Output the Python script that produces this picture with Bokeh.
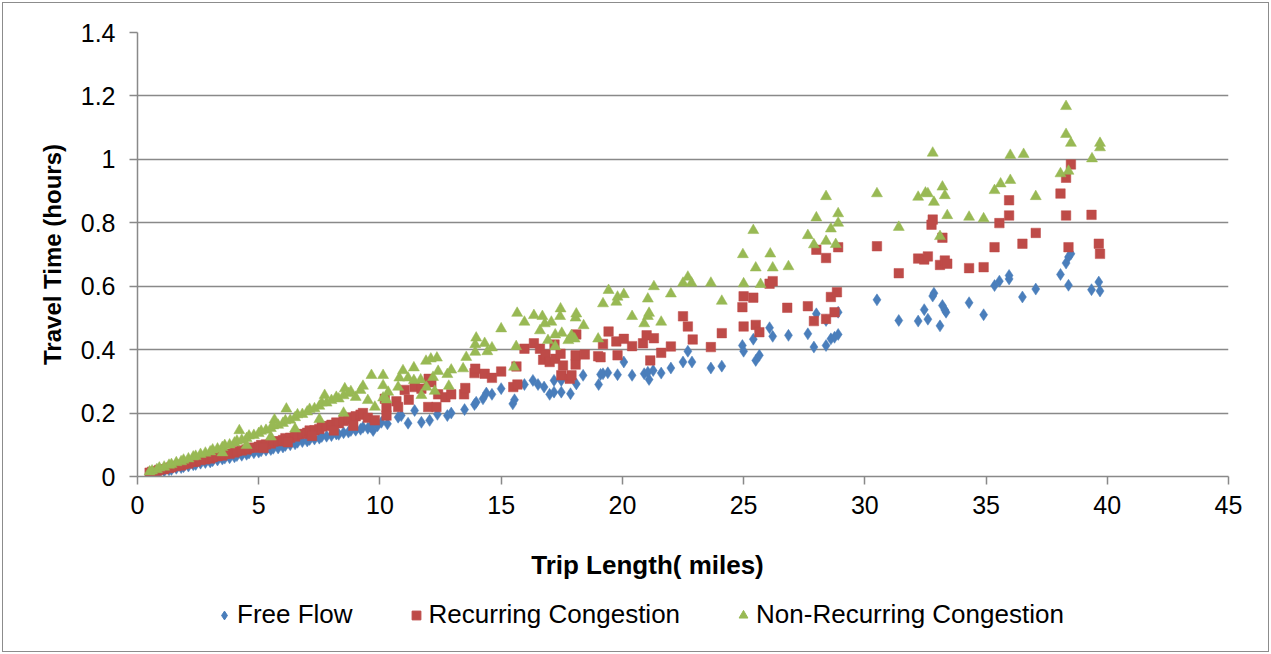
from bokeh.plotting import figure
from bokeh.layouts import column
from bokeh.models import (Range1d, FixedTicker, CustomJSTickFormatter, Legend, LegendItem, Label)
from bokeh.embed import file_html
from bokeh.resources import INLINE

# ---------------- data ----------------
free_x = [0.5, 0.6, 0.8, 0.9, 1.1, 1.3, 1.4, 1.6, 1.8, 1.9, 2.1, 2.3, 2.4, 2.6, 2.8, 3.0, 3.1, 3.3, 3.5, 3.6,
          3.8, 4.0, 4.1, 4.3, 4.5, 4.6, 4.8, 5.0, 5.1, 5.3, 5.5, 5.6, 5.8, 6.0, 6.1, 6.3, 6.5, 6.6, 6.8, 7.0,
          7.1, 7.3, 7.5, 7.6, 7.8, 8.0, 8.2, 8.3, 8.5, 8.7, 8.8, 9.0, 9.2, 9.3, 9.5, 9.6, 9.9,
          9.72, 10.06, 10.31, 10.75, 10.88, 11.16, 11.43, 11.71, 12.05, 12.37, 12.78, 12.94, 13.49, 13.9,
          13.97, 14.25, 14.39, 14.62, 15.0, 15.48, 15.55, 15.96, 16.31, 16.52, 16.77, 17.0, 17.18, 17.18,
          17.48, 17.48, 17.86, 18.1, 18.38, 19.02, 19.1,
          19.2, 19.4, 19.8, 20.06, 20.4, 20.9, 21.05, 21.1, 21.27, 21.6, 22.0, 22.5, 22.7, 22.87, 23.65,
          24.1, 24.95, 25.0, 25.4, 25.5, 25.65, 26.07, 26.2, 26.85, 27.65, 27.9, 28.0, 28.4, 28.4, 28.6,
          28.75, 28.9, 28.9,
          30.5, 31.4, 32.2, 32.45, 32.6, 32.8, 32.85, 33.1, 33.2, 33.3, 33.35, 34.3, 34.9, 35.35, 35.55,
          35.95, 35.95, 36.5, 37.05, 38.07, 38.3, 38.4, 38.5, 38.4, 39.35, 39.65, 39.7]
free_y = [0.009, 0.011, 0.012, 0.016, 0.017, 0.021, 0.022, 0.026, 0.028, 0.031, 0.033, 0.037, 0.038, 0.042,
          0.044, 0.046, 0.05, 0.052, 0.055, 0.058, 0.059, 0.062, 0.066, 0.067, 0.07, 0.074, 0.075, 0.077,
          0.081, 0.083, 0.085, 0.089, 0.09, 0.093, 0.098, 0.1, 0.103, 0.108, 0.11, 0.112, 0.117, 0.118,
          0.121, 0.126, 0.127, 0.129, 0.134, 0.133, 0.138, 0.14, 0.145, 0.146, 0.149, 0.155, 0.152, 0.158,
          0.16,
          0.145, 0.171, 0.166, 0.187, 0.192, 0.168, 0.208, 0.171, 0.177, 0.196, 0.192, 0.2, 0.211, 0.227,
          0.234, 0.245, 0.263, 0.259, 0.277, 0.229, 0.242, 0.29, 0.303, 0.29, 0.282, 0.259, 0.266, 0.303,
          0.303, 0.266, 0.261, 0.292, 0.319, 0.29, 0.322,
          0.324, 0.327, 0.321, 0.361, 0.319, 0.324, 0.329, 0.306, 0.334, 0.326, 0.342, 0.361, 0.395, 0.361,
          0.342, 0.348, 0.413, 0.395, 0.433, 0.366, 0.382, 0.469, 0.442, 0.445, 0.45, 0.408, 0.513, 0.492,
          0.413, 0.434, 0.439, 0.448, 0.518,
          0.557, 0.492, 0.49, 0.526, 0.496, 0.569, 0.578, 0.475, 0.539, 0.525, 0.518, 0.548, 0.51, 0.602,
          0.616, 0.623, 0.634, 0.566, 0.591, 0.637, 0.673, 0.692, 0.702, 0.603, 0.589, 0.613, 0.585]

rec_x = [0.5, 0.6, 0.8, 0.9, 1.1, 1.3, 1.4, 1.6, 1.8, 1.9, 2.1, 2.3, 2.4, 2.6, 2.8, 3.0, 3.1, 3.3, 3.5, 3.6,
         3.8, 4.0, 4.1, 4.3, 4.5, 4.6, 4.8, 5.0, 5.1, 5.3, 5.5, 5.6, 5.8, 6.0, 6.1, 6.3, 6.5, 6.6, 6.8, 7.0,
         7.1, 7.3, 7.5, 7.6, 7.8, 8.0, 8.2, 8.3, 8.5, 8.7, 8.8, 9.0, 9.2, 9.3, 9.5, 8.1, 8.9, 7.2, 6.2, 5.2,
         9.79, 10.2, 10.27, 10.27, 10.68, 10.75, 11.02, 11.19, 11.43, 11.71, 11.99, 12.01, 12.12, 12.33,
         12.4, 12.7, 12.94, 13.47, 13.52, 13.9, 13.93, 14.32, 14.62, 15.0, 15.5, 15.63, 15.67, 15.96,
         16.35, 16.6, 16.73, 16.83, 17.0, 17.2, 17.23, 17.45, 17.48, 17.55, 17.83, 17.9, 18.07, 18.07,
         18.1, 18.45, 19.0,
         19.1, 19.2, 19.43, 19.75, 19.8, 20.06, 20.4, 20.85, 21.0, 21.15, 21.3, 21.6, 22.0, 22.5, 22.7,
         22.9, 23.65, 24.1, 24.95, 25.0, 25.0, 25.4, 25.5, 25.65, 26.07, 26.2, 26.8, 27.65, 27.9, 28.0,
         28.4, 28.4, 28.6, 28.75, 28.85, 28.9,
         30.5, 31.4, 32.2, 32.45, 32.6, 32.75, 32.8, 33.1, 33.2, 33.3, 33.4, 34.3, 34.9, 35.35, 35.55,
         35.95, 35.95, 36.5, 37.05, 38.07, 38.3, 38.3, 38.4, 38.5, 39.35, 39.65, 39.7]
rec_y = [0.012, 0.015, 0.017, 0.021, 0.023, 0.027, 0.029, 0.033, 0.035, 0.039, 0.041, 0.046, 0.047, 0.052,
         0.054, 0.057, 0.061, 0.064, 0.066, 0.071, 0.072, 0.076, 0.08, 0.082, 0.085, 0.09, 0.091, 0.094,
         0.099, 0.101, 0.104, 0.11, 0.111, 0.115, 0.121, 0.122, 0.126, 0.133, 0.134, 0.138, 0.145, 0.146,
         0.15, 0.158, 0.159, 0.163, 0.17, 0.168, 0.175, 0.18, 0.186, 0.19, 0.195, 0.2, 0.185, 0.145, 0.16,
         0.128, 0.108, 0.09,
         0.177, 0.245, 0.219, 0.192, 0.237, 0.219, 0.273, 0.242, 0.282, 0.277, 0.219, 0.308, 0.297, 0.219,
         0.259, 0.25, 0.259, 0.259, 0.279, 0.326, 0.34, 0.324, 0.311, 0.331, 0.282, 0.347, 0.29, 0.403,
         0.42, 0.403, 0.368, 0.385, 0.361, 0.416, 0.371, 0.387, 0.319, 0.35, 0.308, 0.319, 0.353, 0.382,
         0.448, 0.385, 0.379,
         0.376, 0.418, 0.457, 0.426, 0.382, 0.434, 0.411, 0.42, 0.445, 0.366, 0.436, 0.39, 0.41, 0.505,
         0.473, 0.432, 0.408, 0.452, 0.534, 0.568, 0.473, 0.564, 0.478, 0.455, 0.608, 0.616, 0.532, 0.537,
         0.49, 0.715, 0.689, 0.497, 0.566, 0.518, 0.581, 0.723,
         0.726, 0.641, 0.687, 0.684, 0.694, 0.794, 0.81, 0.667, 0.753, 0.681, 0.671, 0.657, 0.66, 0.723,
         0.799, 0.823, 0.871, 0.734, 0.768, 0.892, 0.942, 0.823, 0.723, 0.984, 0.825, 0.734, 0.702]

nonrec_x = [0.5, 0.6, 0.8, 0.9, 1.1, 1.3, 1.4, 1.6, 1.8, 1.9, 2.1, 2.3, 2.4, 2.6, 2.8, 3.0, 3.1, 3.3, 3.5,
            3.6, 3.8, 4.0, 4.1, 4.2, 4.3, 4.5, 4.6, 4.8, 5.0, 5.1, 5.3, 5.5, 5.65, 5.6, 5.8, 6.0, 6.14, 6.1,
            6.3, 6.5, 6.6, 6.8, 7.0, 7.1, 7.3, 7.5, 7.72, 7.6, 7.8, 8.0, 8.2, 8.3, 8.55, 8.5, 8.7, 8.8, 9.0,
            9.2, 9.3, 9.5, 3.5, 4.5, 5.5, 6.5, 7.5, 8.5,
            9.65, 9.79, 10.13, 10.13, 10.13, 10.27, 10.34, 10.75, 10.8, 10.95, 11.16, 11.4, 11.4, 11.68,
            11.71, 11.9, 11.92, 12.1, 12.19, 12.26, 12.35, 12.4, 12.78, 12.84, 12.94, 13.43, 13.56, 13.93,
            13.93, 13.97, 14.32, 14.43, 14.62, 15.0, 15.53, 15.62, 15.66, 15.96, 16.35, 16.6, 16.7, 16.8,
            16.93, 17.07, 17.23, 17.23, 17.43, 17.45, 17.5, 17.77, 17.9, 18.03, 18.07, 18.1, 18.4, 19.0,
            19.2, 19.43, 19.75, 19.8, 20.06, 20.4, 20.9, 21.05, 21.05, 21.1, 21.3, 21.6, 22.0, 22.5, 22.7,
            22.85, 23.65, 24.1, 24.97, 25.0, 25.4, 25.5, 25.7, 26.1, 26.2, 26.85, 27.65, 27.9, 28.0, 28.4,
            28.4, 28.6, 28.8, 28.9, 28.9,
            30.5, 31.4, 32.2, 32.5, 32.6, 32.8, 32.85, 33.1, 33.2, 33.3, 33.4, 34.3, 34.9, 35.35, 35.6, 36.0,
            36.0, 36.55, 37.05, 38.07, 38.3, 38.3, 38.4, 38.5, 39.37, 39.7, 39.7]
nonrec_y = [0.015, 0.018, 0.022, 0.027, 0.03, 0.036, 0.038, 0.044, 0.047, 0.052, 0.056, 0.062, 0.064, 0.07,
            0.074, 0.078, 0.084, 0.087, 0.092, 0.098, 0.1, 0.106, 0.112, 0.145, 0.115, 0.12, 0.128, 0.13,
            0.136, 0.143, 0.146, 0.152, 0.179, 0.16, 0.162, 0.168, 0.213, 0.176, 0.178, 0.186, 0.195, 0.196,
            0.204, 0.212, 0.214, 0.222, 0.256, 0.232, 0.232, 0.24, 0.25, 0.245, 0.277, 0.255, 0.262, 0.268,
            0.25, 0.272, 0.285, 0.24, 0.075, 0.098, 0.125, 0.15, 0.18, 0.2,
            0.319, 0.219, 0.319, 0.287, 0.248, 0.242, 0.266, 0.282, 0.311, 0.334, 0.311, 0.343, 0.303, 0.305,
            0.256, 0.364, 0.282, 0.371, 0.313, 0.269, 0.374, 0.332, 0.322, 0.285, 0.336, 0.34, 0.376, 0.416,
            0.392, 0.437, 0.42, 0.394, 0.406, 0.466, 0.345, 0.41, 0.515, 0.487, 0.508, 0.46, 0.505, 0.482,
            0.429, 0.487, 0.447, 0.41, 0.505, 0.529, 0.452, 0.429, 0.445, 0.434, 0.5, 0.513, 0.476, 0.434,
            0.545, 0.587, 0.55, 0.566, 0.574, 0.505, 0.482, 0.56, 0.505, 0.515, 0.599, 0.487, 0.576, 0.61,
            0.629, 0.61, 0.61, 0.553, 0.70, 0.608, 0.776, 0.658, 0.606, 0.702, 0.658, 0.662, 0.76, 0.731,
            0.816, 0.883, 0.742, 0.781, 0.732, 0.829, 0.799,
            0.892, 0.786, 0.881, 0.894, 0.892, 1.02, 0.865, 0.757, 0.913, 0.886, 0.823, 0.818, 0.813, 0.902,
            0.923, 0.934, 1.013, 1.016, 0.883, 0.955, 1.079, 1.167, 0.963, 1.051, 1.002, 1.037, 1.051]

series_names = ["Free Flow", "Recurring Congestion", "Non-Recurring Congestion"]
x_ticks = [0, 5, 10, 15, 20, 25, 30, 35, 40, 45]
y_ticks = [0, 0.2, 0.4, 0.6, 0.8, 1.0, 1.2, 1.4]
x_title = "Trip Length( miles)"
y_title = "Travel Time (hours)"

# ---------------- styling ----------------
FONT = "Liberation Sans"
GRID = "#898989"
BLUE, RED, GREEN = "#4A7EBB", "#BE4B48", "#98B954"
MARKERS = [("diamond", 12, BLUE), ("square", 9.5, RED), ("triangle", 11, GREEN)]
SERIES_X = [free_x, rec_x, nonrec_x]
SERIES_Y = [free_y, rec_y, nonrec_y]

# main chart
p = figure(width=1265, height=530, output_backend="svg", toolbar_location=None,
           x_range=Range1d(0, 45), y_range=Range1d(0, 1.4),
           min_border_left=134, min_border_right=40, min_border_top=29, min_border_bottom=57,
           background_fill_color="white", border_fill_color="white")
p.outline_line_color = None

for (mk, sz, col), xs, ys in zip(MARKERS, SERIES_X, SERIES_Y):
    p.scatter(xs, ys, marker=mk, size=sz, fill_color=col, line_color=col, line_width=0.5)

p.xgrid.grid_line_color = None
p.ygrid.grid_line_color = GRID
p.ygrid.grid_line_width = 1.5

for ax in (p.xaxis[0], p.yaxis[0]):
    ax.axis_line_color = GRID
    ax.axis_line_width = 1.5
    ax.major_tick_line_color = GRID
    ax.major_tick_line_width = 1.5
    ax.major_tick_in = 0
    ax.major_tick_out = 8
    ax.minor_tick_line_color = None
    ax.major_label_text_font = FONT
    ax.major_label_text_font_size = "25px"
    ax.major_label_text_color = "black"
    ax.axis_label_text_font = FONT
    ax.axis_label_text_font_style = "bold"
    ax.axis_label_text_color = "black"

p.yaxis.axis_label_text_font_size = "24px"
p.xaxis.ticker = FixedTicker(ticks=x_ticks)
p.yaxis.ticker = FixedTicker(ticks=y_ticks)
p.yaxis.formatter = CustomJSTickFormatter(code="return String(Number(tick.toFixed(1)));")
p.yaxis.axis_label = y_title
p.xaxis.major_label_standoff = 11
p.yaxis.major_label_standoff = 14
p.yaxis.axis_label_standoff = 12

# strip below the chart: x-axis title (centred on the whole chart, as in the original) and legend
p2 = figure(width=1265, height=118, output_backend="svg", toolbar_location=None,
            x_axis_type=None, y_axis_type=None, min_border=0,
            x_range=Range1d(100, 101), y_range=Range1d(100, 101),
            background_fill_color="white", border_fill_color="white")
p2.outline_line_color = None
p2.add_layout(Label(x=510, y=87, x_units="screen", y_units="screen", text=x_title,
                    text_font=FONT, text_font_size="26px", text_font_style="bold",
                    text_color="black", text_align="center", text_baseline="alphabetic"))
items = []
for (mk, sz, col), name, xs, ys in zip(MARKERS, series_names, SERIES_X, SERIES_Y):
    r = p2.scatter(xs, ys, marker=mk, size=sz, fill_color=col, line_color=col)
    items.append(LegendItem(label=name, renderers=[r]))
legend = Legend(items=items, orientation="horizontal", location=(76, 21),
                border_line_color=None, background_fill_alpha=0,
                label_text_font=FONT, label_text_font_size="26px", label_text_color="black",
                glyph_width=22, glyph_height=22, label_standoff=2, spacing=52,
                padding=5, margin=0)
p2.add_layout(legend, "center")

layout = column(p, p2, spacing=0,
                styles={"margin-left": "2px", "margin-top": "2px", "border": "1px solid #8c8c8c"})

open("out.html", "w").write(file_html(layout, INLINE))
